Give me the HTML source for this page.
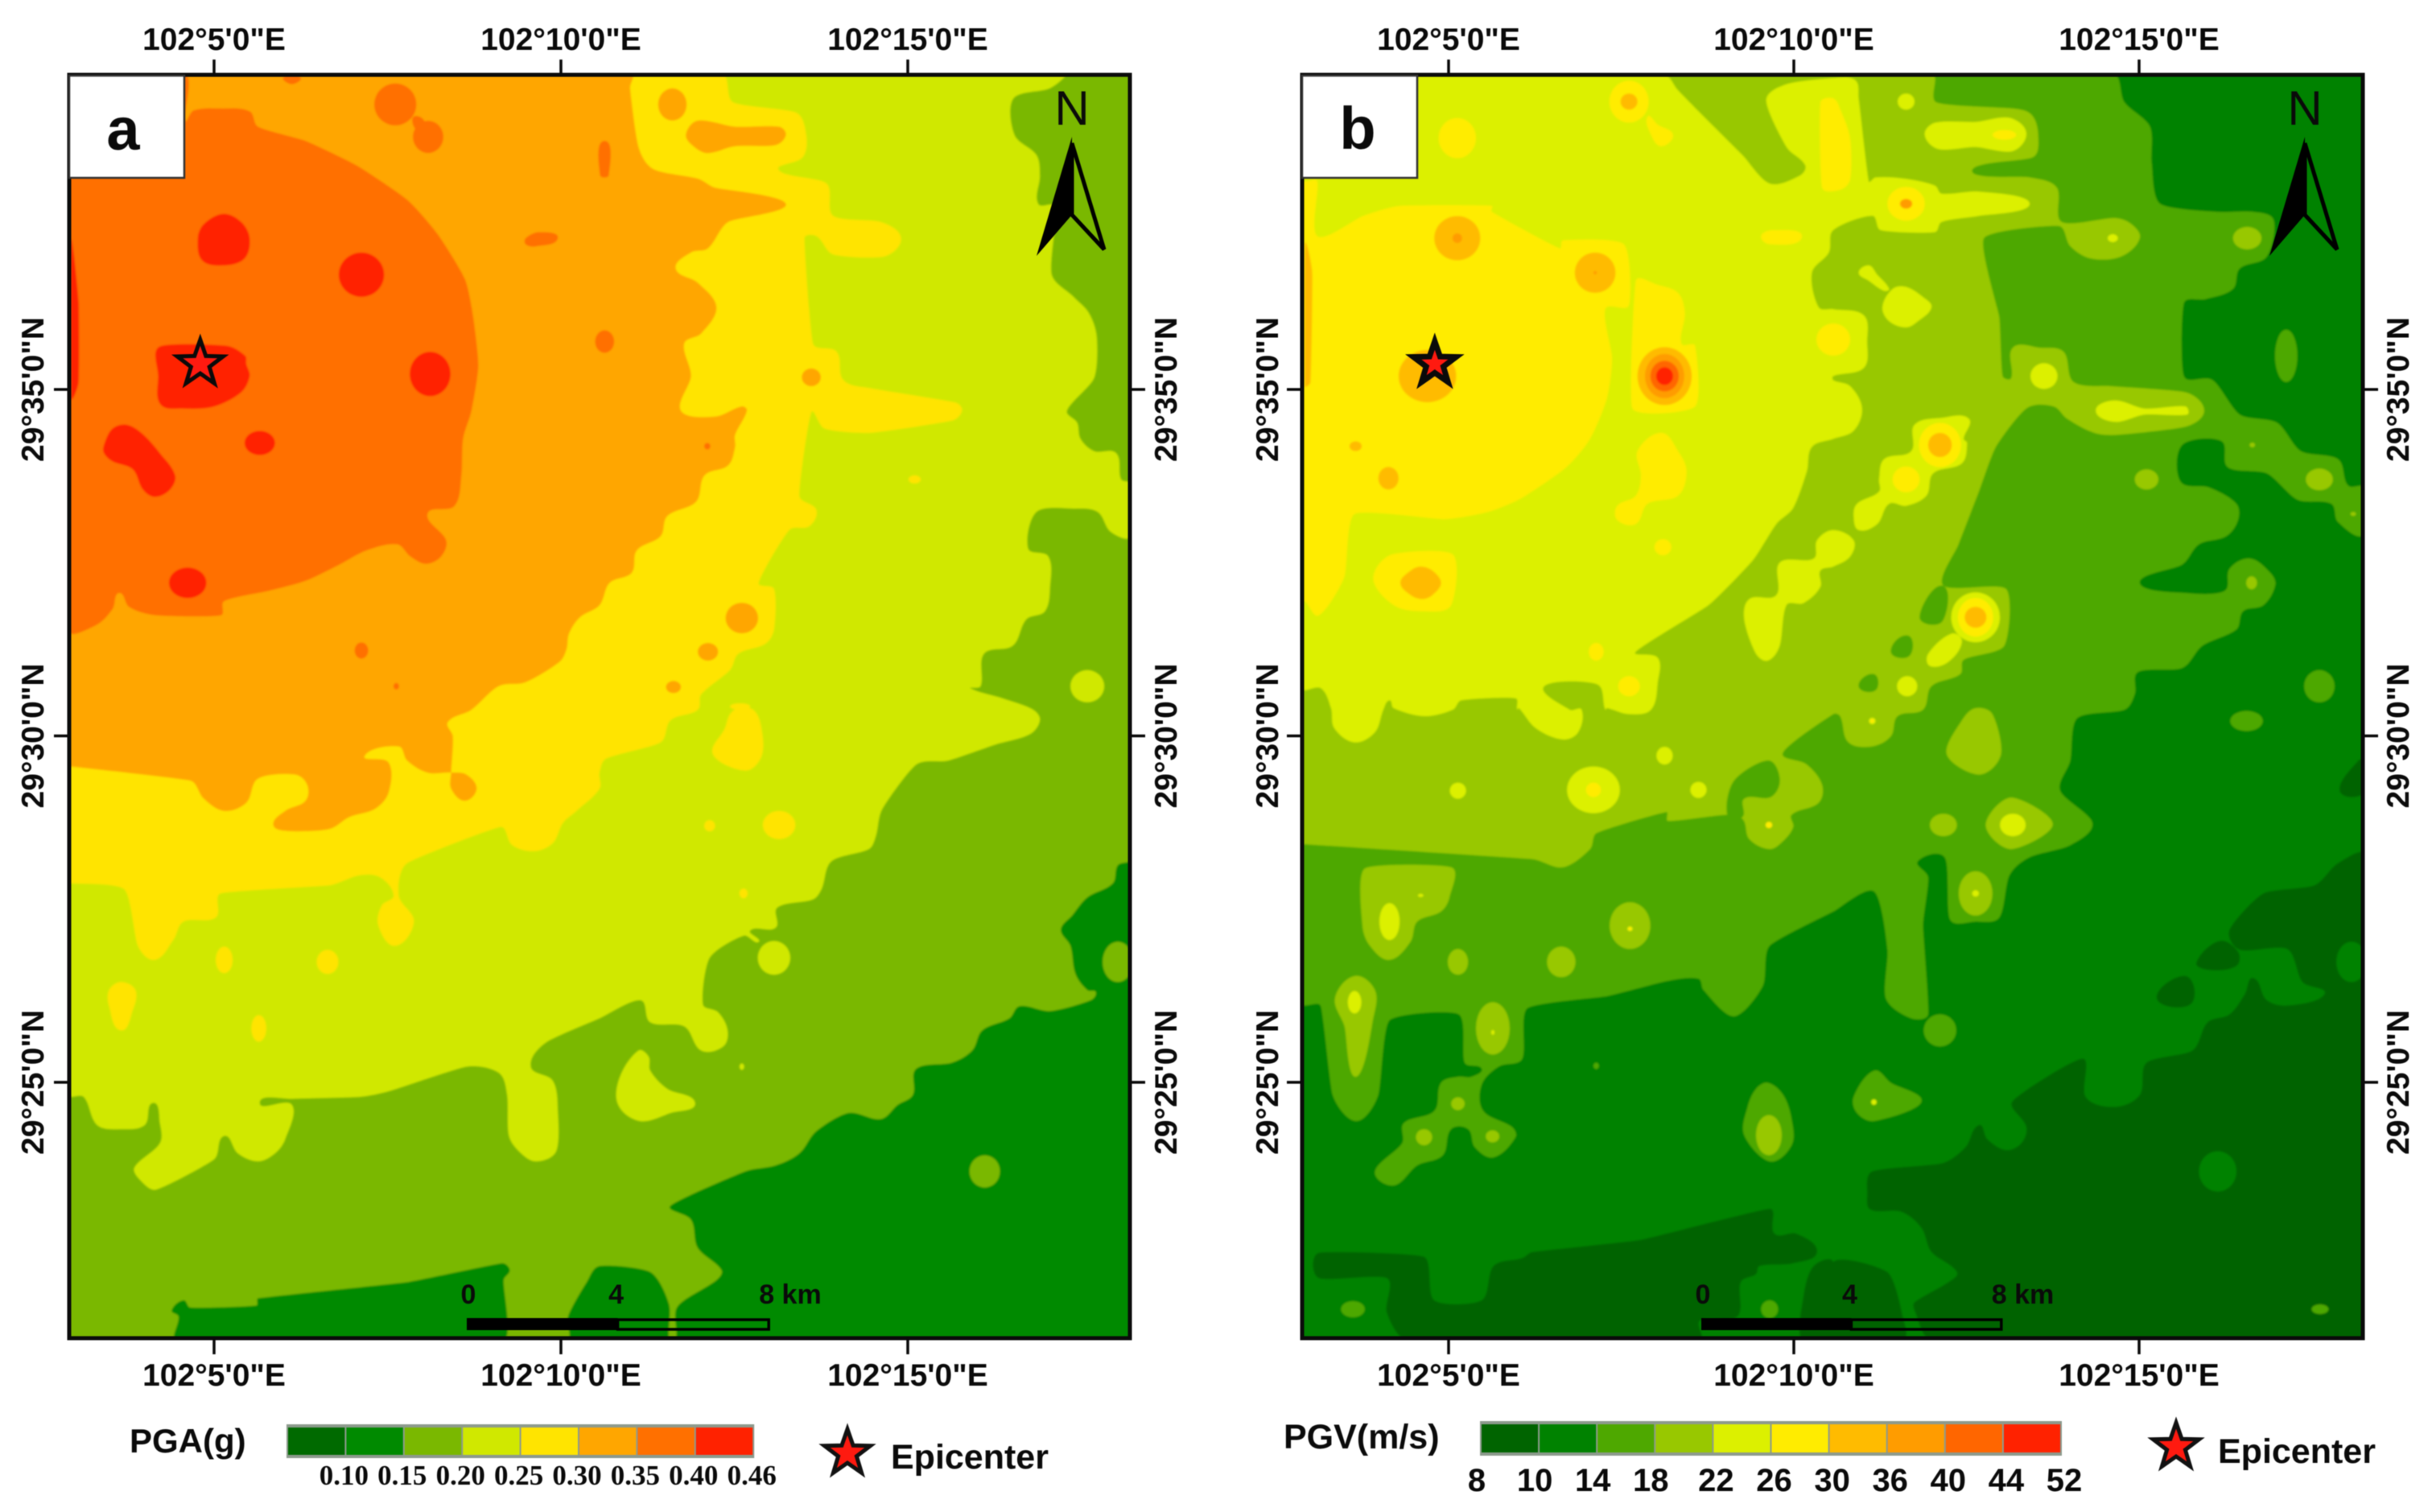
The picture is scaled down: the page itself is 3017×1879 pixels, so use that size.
<!DOCTYPE html>
<html lang="en">
<head>
<meta charset="utf-8">
<title>PGA and PGV contour maps</title>
<style>
html,body{margin:0;padding:0;background:#fff}
svg{display:block;filter:blur(0.5px)}
text{font-family:"Liberation Sans",sans-serif;font-weight:700;fill:#0a0a0a}
</style>
</head>
<body>
<svg id="figure" xmlns="http://www.w3.org/2000/svg" width="3017" height="1879" viewBox="0 0 3017 1879">
<defs>
<filter id="soft" x="-2%" y="-2%" width="104%" height="104%"><feGaussianBlur stdDeviation="1.1"/></filter>
<clipPath id="clip-a"><rect x="86" y="93" width="1318" height="1570"/></clipPath>
<clipPath id="clip-b"><rect x="1618" y="93" width="1318" height="1570"/></clipPath>
</defs>
<rect x="0" y="0" width="3017" height="1879" fill="#ffffff"/>
</svg>
<script>
/* ---- axis and legend data ---- */
const lonTickMinutes = [5, 10, 15];
const lonTickLabels = ["102°5'0\"E", "102°10'0\"E", "102°15'0\"E"];
const latTickMinutes = [35, 30, 25];
const latTickLabels = ["29°35'0\"N", "29°30'0\"N", "29°25'0\"N"];
const epicenterLon = 4.80;
const epicenterLat = 35.37;
const pgaPalette = ["#006a00", "#008a00", "#7ab800", "#d0e800", "#ffe400", "#ffa600", "#ff7000", "#ff2200"];
const pgaLegendLabels = ["0.10", "0.15", "0.20", "0.25", "0.30", "0.35", "0.40", "0.46"];
const pgvPalette = ["#006400", "#008200", "#4ea800", "#98c800", "#dcf000", "#ffec00", "#ffbb00", "#ff9c00", "#ff6600", "#ff2200"];
const pgvLegendLabels = ["8", "10", "14", "18", "22", "26", "30", "36", "40", "44", "52"];
const scaleKm = [0, 4, 8];

/* ---- contour data: map-sheet grid coordinates (sheet, col, row, ...) ---- */
const pgaRegions2 = [[
 ['TL',0,0],['TR',1568,0],
 ['BR',1568,375,1530,390,1515,435,1440,470,1395,515,1362,550,1390,590,1405,660,1440,700,1465,705,1450,725,1330,752,1240,740,1210,770,1130,800,1100,850,1040,880,935,895,925,960,880,985,830,1020,735,1005,640,1050,590,1105,520,1135,430,1150,210,1235,270,1270,290,1340,360,1395,345,1420,250,1470,225,1495,225,1568,205,1568,205,1480,150,1400,0,1385],
 ['BL',1530,1425,1475,1510,1470,1568,0,1568]
]];
const pgaBlobs2 = [['BR',1137,1150,45,40],['BR',1530,630,45,50]];
const pgaRegions1 = [[
 ['BL',320,1568,325,1510,305,1495,340,1470,360,1488,555,1483,560,1465,1000,1425,1280,1378,1303,1395,1285,1420,1285,1568]
]];
const pgaRegions3 = [
 [['TL',0,0],
  ['TR',1370,0,1330,35,1222,60,1225,150,1290,200,1300,250,1295,320,1345,325,1345,370,1335,495,1400,550,1445,590,1468,650,1460,750,1380,830,1410,860,1420,900,1460,930,1525,935,1540,1000,1568,1010,1568,1140,1510,1130,1470,1080,1400,1072,1290,1080,1265,1170,1325,1190,1330,1265,1315,1325,1260,1345,1220,1410,1135,1430,1125,1510,1095,1515,1190,1540,1280,1568],
  ['BR',1300,30,1270,65,1170,90,1030,130,935,140,835,250,815,320,795,350,685,380,655,450,630,475,525,495,520,545,445,552,470,580,425,565,325,620,305,735,350,755,378,800,365,840,300,850,250,790,150,780,120,725,0,770],
  ['BL',1410,830,1365,890,1430,925,1445,1000,1440,1100,1380,1125,1330,1100,1300,1060,1295,960,1270,905,1175,890,950,950,860,965,660,970,565,980,660,985,640,1070,610,1105,560,1125,500,1105,460,1062,430,1120,260,1195,210,1170,195,1140,270,1080,270,1030,250,980,225,1035,155,1045,85,1035,45,965,0,960]],
 [['BR',115,850,60,915,55,985,120,1025,210,1005,282,980,200,945,150,900,145,865]]
];
const pgaBlobs3 = [['BR',515,620,48,42],['TR',1440,1510,50,40],['BR',420,890,7,8]];
const pgaRegions4 = [
 [['TR',360,0,395,70,580,95,610,150,600,205,530,238,670,270,690,350,830,365,890,405,840,450,690,445,640,400,605,405,630,665,700,685,720,755,800,775,1050,810,1070,830,1040,855,800,885,665,875,625,835,590,1040,640,1075,620,1115,560,1125,470,1255,515,1270,515,1370,490,1405,410,1430,385,1470,300,1530,290,1568],
  ['BR',210,30,180,85,20,125,0,160],
  ['BL',1568,200,1500,255,1460,285,1430,335,1375,355,1310,340,1275,295,1000,385,975,465,1020,530,965,590,915,540,925,490,960,465,920,420,860,415,770,440,450,460,435,520,340,530,310,575,255,625,205,590,165,450,10,435,0,435],
  ['TL',0,0]],
 [['BR',410,0,455,5,478,50,478,120,430,155,335,115,370,50,385,15]],
 [['BL',120,700,155,680,198,700,190,750,155,800,120,740]]
];
const pgaBlobs4 = [['BR',530,290,48,35],['BR',325,292,16,14],['BR',425,460,12,12],['BL',460,625,25,33],['BL',765,630,32,30],['BL',562,795,22,33],['TR',930,1000,18,10],['TR',415,1560,30,8]];
const pgaRegions5 = [
 [['TR',95,0,90,35,115,180,160,235,290,258,340,280,550,320,380,365,320,430,270,440,225,480,290,515,345,575,300,640,250,665,270,745,240,830,340,845,420,820,435,830,400,890,400,920,380,965,310,990,285,1055,200,1090,180,1140,110,1175,95,1230,30,1255,0,1310],
  ['TL',1510,1340,1478,1380,1470,1420,1450,1450,1350,1500,1270,1510,1190,1568],
  ['BL',1120,35,1135,70,1130,160,1130,200,1170,230,1205,200,1175,165,1130,160,1060,160,1000,130,975,95,875,118,945,135,945,210,905,250,830,270,770,300,650,305,605,290,640,255,700,230,705,190,670,165,560,175,525,235,460,255,400,225,360,180,10,145,0,145],
  ['TL',0,0]],
 [['TR',255,150,290,115,400,130,530,130,550,150,520,175,400,178,320,195,280,180]]
];
const pgaBlobs5 = [['TR',215,75,42,40],['TR',625,748,28,22],['TR',420,1342,48,38],['TR',320,1425,30,22],['TR',218,1512,22,15]];
const pgaRegions6 = [
 [['TL',345,0,345,115,370,90,450,85,535,92,560,130,700,165,850,225,1000,310,1090,395,1170,505,1195,600,1210,720,1190,830,1165,900,1160,990,1140,1065,1060,1085,1115,1150,1100,1190,1055,1208,1010,1190,970,1160,880,1175,800,1210,700,1250,590,1275,460,1300,450,1335,260,1335,180,1315,150,1280,130,1320,80,1360,0,1372,0,0]],
 [['TL',1020,105,1050,115,1040,140,1020,130]],
 [['TL',635,8,685,8,660,25]],
 [['TR',15,165,27,250,2,250]],
 [['TL',1350,405,1390,390,1445,405,1380,425,1350,420]]
];
const pgaBlobs6 = [['TL',965,75,62,52],['TL',1062,155,45,40],['TR',15,660,28,28],['TL',865,1422,20,20],['TL',968,1510,8,8],['TR',318,918,9,8]];
const pgaRegions7 = [
 [['TL',8,410,30,560,30,760,8,800]],
 [['TL',382,405,400,370,458,345,510,365,535,405,520,455,458,472,395,460]],
 [['TL',270,672,465,670,522,695,525,715,535,745,510,785,430,820,340,825,272,815,265,745]],
 [['TL',105,915,130,875,170,865,215,885,270,935,315,990,300,1025,255,1043,220,1025,190,975,130,955,105,935]]
];
const pgaBlobs7 = [['TL',865,495,67,55],['TL',1068,740,60,55],['TL',565,910,45,30],['TL',352,1255,55,38]];

const pgvRegions0 = [
 [['BR',1568,365,1490,385,1420,440,1270,460,1170,550,1200,600,1340,598,1385,680,1450,710,1345,738,1280,725,1240,670,1215,710,1170,760,1105,780,1060,850,925,880,905,960,830,990,745,965,735,870,530,975,570,1040,555,1080,510,1097,455,1070,430,1035,390,1090,320,1130,115,1150,100,1210,110,1245,200,1250,260,1290,290,1350,365,1400,340,1425,240,1475,240,1495,290,1568,1568,1568]],
 [['BR',0,1375,160,1400,205,1510,205,1568,0,1568]],
 [['BL',1568,1375,1510,1385,1480,1460,1475,1568,1568,1568]],
 [['BR',1072,632,1140,578,1195,605,1190,640,1110,650]],
 [['BR',955,720,1040,665,1055,735]],
 [['BR',1495,205,1550,130,1568,130,1568,210]],
 [['BL',1380,1243,1395,1305,1460,1305,1520,1350,1450,1378,1350,1385,1340,1405,1295,1425,1285,1510,1175,1520,1175,1568,310,1568,250,1500,250,1415,50,1415,50,1352,360,1362,390,1470,530,1470,565,1385,650,1365,680,1350,1000,1320]]
];
const pgvBlobs1 = [['BR',1530,630,45,50],['BR',1135,1150,55,50]];
const pgvRegions2 = [
 [['TR',825,0,860,70,935,130,940,220,965,320,1135,340,1240,340,1300,360,1280,450,1200,480,1180,530,1100,555,1035,565,1035,745,1120,755,1200,840,1310,860,1380,930,1490,950,1520,1015,1568,1020,1568,1135,1490,1105,1470,1060,1370,1050,1280,985,1165,970,1145,905,1030,915,1025,1005,1110,1020,1190,1060,1195,1100,1160,1140,1080,1160,1030,1210,905,1255,1040,1280,1155,1275,1170,1220,1230,1195,1290,1230,1305,1260,1270,1310,1210,1325,1190,1370,1090,1410,1030,1465,900,1475,890,1530,860,1568],
  ['BR',720,25,700,130,670,205,765,285,700,340,580,370,520,415,490,520,420,530,345,525,330,372,250,380,280,420,265,540,280,760,230,770,155,720,160,600,120,455,0,505],
  ['BL',1380,590,1360,690,1275,765,1185,700,1170,672,1075,678,900,715,665,745,650,870,580,890,530,935,535,1000,620,1040,630,1065,565,1115,510,1090,490,1045,440,1045,415,1110,340,1135,270,1185,215,1150,295,1080,300,1030,390,1000,410,930,460,915,500,915,530,895,480,880,462,760,258,775,225,960,160,1025,90,960,55,740,8,738,0,738],
  ['TL',0,0]],
 [['BR',120,900,60,965,70,1005,120,1025,260,978,170,930]],
 [['BL',1375,930,1420,960,1445,1020,1445,1085,1380,1125,1305,1060,1315,990,1340,945]]
];
const pgvBlobs2 = [['BR',315,800,48,40],['BL',150,1492,35,20],['BL',1380,1492,25,22],['BR',1220,32,48,25],['TR',1435,1510,45,40],['BR',1437,1492,25,12],['BL',868,888,8,8],['TR',1337,695,33,65]];
const pgvRegions3 = [
 [['TR',290,0,305,70,530,85,585,100,605,150,590,205,410,238,580,255,660,280,675,365,830,355,880,370,905,405,850,450,760,455,700,425,665,375,445,405,490,600,500,745,525,750,530,675,610,675,680,685,710,760,820,770,1040,785,1095,830,1040,870,840,890,770,885,690,850,650,820,570,825,480,920,430,1030,370,1160,325,1262,510,1270,505,1410,385,1445,375,1480,290,1510,265,1568],
  ['BR',190,20,170,70,115,95,45,85,20,20,0,15],
  ['BL',1420,110,1490,140,1535,190,1525,235,1445,265,1450,295,1420,330,1380,350,1320,325,1300,275,1250,265,1080,280,1075,258,870,310,850,350,770,395,680,375,8,338,0,338],
  ['TL',0,0]],
 [['BL',185,398,440,395,435,470,410,505,340,530,320,580,258,625,200,590,178,540]],
 [['BL',155,665,215,700,210,770,160,915,125,790,97,720]],
 [['BR',420,0,470,15,495,115,430,165,335,115,380,30]],
 [['BR',450,290,525,222,648,288,525,350]]
];
const pgvBlobs3 = [['TR',1222,405,42,28],['TR',925,1000,35,25],['TR',1435,1000,40,27],['TR',1235,1255,16,16],['TR',1237,915,8,6],['BL',460,630,30,32],['BL',765,630,42,38],['BL',968,540,60,58],['BL',563,795,50,65],['BL',460,982,20,16],['BL',360,1065,24,20],['BL',562,1063,20,15],['BL',1378,1060,38,50],['BR',325,290,40,28],['BR',420,460,50,55],['TR',1535,1085,8,5]];
const pgvHoles2 = [
 [['TR',255,1340,322,1262,322,1350]],
 [['TR',170,1425,220,1385,225,1435]],
 [['TR',75,1510,120,1480,125,1520]],
 [['BL',1255,265,1275,180,1375,130,1410,175,1385,220,1305,225,1300,270]]
];
const pgvRegions4 = [
 [['TL',1065,0,1110,40,1180,100,1300,200,1380,270,1470,250,1485,225,1430,180,1370,65,1430,25,1568,10],
  ['TR',65,15,75,60,105,265,125,255,210,258,300,275,320,295,430,290,580,320,430,350,320,365,300,390,140,385,115,350,0,385],
  ['TL',1555,440,1505,490,1525,575],
  ['TR',0,580,90,595,100,660,90,725,0,745,0,755,50,770,85,825,60,880,0,900],
  ['TL',1505,920,1490,980,1450,1070,1400,1110,1330,1200,1200,1310,985,1425,1050,1440,1050,1500,1030,1568],
  ['BL',965,15,900,0],
  ['TL',895,1568,870,1505,715,1510,790,1568,825,1568],
  ['BL',815,60,770,78,690,50,640,0],
  ['TL',635,1568,630,1540,470,1545,445,1568],
  ['BL',360,20,270,0],
  ['TL',258,1545,240,1568],
  ['BL',215,60,155,85,95,50,85,0],
  ['TL',55,1515,0,1515,0,0]],
 [['TL',1568,1125],['TR',60,1150,50,1190,0,1215],['TL',1530,1225,1530,1265,1480,1305,1430,1310,1410,1410,1375,1447,1340,1430,1305,1345,1320,1295,1400,1285,1410,1205,1510,1195,1520,1150]],
 [['TR',60,1090,70,1060,135,1030,135,1000,150,950,230,930,240,865,320,848,400,850,385,900,395,910,380,960,295,985,275,1040,215,1065,165,1060,130,1110,75,1125]],
 [['TR',270,150,300,120,420,118,520,108,570,145,530,190,420,180,310,185]],
 [['TR',775,830,830,805,920,825,1040,820,1045,840,920,840,830,858]],
 [['TR',280,1430,350,1380,380,1400,340,1450,285,1460]],
 [['TR',145,575,175,530,215,525,265,550,290,575,250,610,215,625,165,610]],
 [['TR',75,490,105,472,130,495,165,530,150,535,105,510]]
];
const pgvBlobs4 = [['TR',622,745,40,32],['TR',215,68,25,20],['TR',825,405,15,10],['TR',420,1340,72,62],['TR',218,1510,30,25],['BL',460,205,24,20],['BL',860,203,78,58],['BL',1070,118,24,22],['BL',1170,203,24,20],['BL',155,730,20,28],['BL',258,530,30,46],['BR',530,290,38,28],['BR',115,32,10,8],['BR',420,460,10,8],['BR',120,978,8,7],['BL',350,465,8,4],['BL',968,548,8,6],['BL',563,805,5,6]];
const pgvRegions5 = [
 [['TL',8,265,45,265,45,400,180,350,290,325,560,325,560,340,760,430,770,410,950,420,965,570,895,580,915,700,900,800,850,900,780,970,650,1045,550,1080,420,1098,155,1085,125,1240,50,1335,8,1300,0,1300,0,265]],
 [['TL',985,510,1050,520,1110,540,1130,590,1120,665,1160,670,1160,820,975,825]],
 [['TL',210,1245,265,1185,445,1185,440,1310,355,1325,270,1310]],
 [['TL',1355,400,1390,385,1475,403,1380,420]],
 [['TL',990,930,1060,885,1110,930,1135,980,1110,1040,1020,1060,985,1110,930,1100,930,1065,985,1040,1000,990]],
 [['TL',1530,70,1568,60],['TR',22,90,50,160,50,260,22,285],['TL',1535,280]],
 [['TL',1020,105,1050,125,1095,150,1060,178,1030,150]]
];
const pgvBlobs5 = [['TL',458,158,55,50],['TL',965,68,58,52],['TL',1065,1167,25,20],['TL',868,1425,22,22],['TL',965,1510,32,25],['TR',0,655,50,40],['TR',315,915,62,55],['TR',215,1000,40,32],['TR',215,320,55,42],['TR',420,1340,52,48],['TR',505,150,35,12],['BL',860,203,22,18],['BL',1378,290,10,8],['BR',115,32,6,5],['BL',968,548,5,4]];
const pgvRegions6 = [
 [['TL',8,420,30,490,25,760,8,770]],
 [['TL',290,1255,320,1225,350,1215,385,1225,410,1255,385,1285,355,1295,320,1285]]
];
const pgvBlobs6 = [['TL',458,405,68,55],['TL',865,490,60,50],['TL',370,745,85,65],['TL',255,997,30,28],['TL',158,918,18,12],['TL',1070,745,80,72],['TR',315,915,35,30],['TR',420,1340,32,26],['TL',965,68,25,20]];
const pgvBlobs7 = [['TL',458,405,14,12],['TL',865,490,5,4],['TL',1070,745,58,55],['TR',215,320,18,12]];
const pgvBlobs8 = [['TL',1070,745,42,38]];
const pgvBlobs9 = [['TL',1070,745,25,22]];

/* ---- drawing order: colour level, regions, blobs ---- */
const pgaOrder = [[2,pgaRegions2,pgaBlobs2],[1,pgaRegions1,[]],[3,pgaRegions3,pgaBlobs3],[4,pgaRegions4,pgaBlobs4],[5,pgaRegions5,pgaBlobs5],[6,pgaRegions6,pgaBlobs6],[7,pgaRegions7,pgaBlobs7]];
const pgvOrder = [[0,pgvRegions0,[]],[1,[],pgvBlobs1],[2,pgvRegions2,pgvBlobs2],[3,pgvRegions3,pgvBlobs3],[2,pgvHoles2,[]],[4,pgvRegions4,pgvBlobs4],[5,pgvRegions5,pgvBlobs5],[6,pgvRegions6,pgvBlobs6],[7,[],pgvBlobs7],[8,[],pgvBlobs8],[9,[],pgvBlobs9]];

/* ---- scales ---- */
const svg = document.getElementById('figure');
const NS = 'http://www.w3.org/2000/svg';
const sheetOrigin = {TL:[0,92,790], TR:[660,92,790], BL:[0,880,785], BR:[660,880,785]};
function gridX(left, sheet, col){ return left + sheetOrigin[sheet][0] + col * 660 / 1568; }
function gridY(sheet, row){ return sheetOrigin[sheet][1] + row * sheetOrigin[sheet][2] / 1568; }
function lonX(tick5, perMinute, minutes){ return tick5 + (minutes - 5) * perMinute; }
function latY(minutes){ return 484 + (35 - minutes) * 86.1; }
function add(parent, tag, attrs){
  const el = document.createElementNS(NS, tag);
  for (const k in attrs) el.setAttribute(k, attrs[k]);
  parent.appendChild(el);
  return el;
}
function label(parent, x, y, str, size, anchor, extra){
  const el = add(parent, 'text', Object.assign({x:x, y:y, 'font-size':size, 'text-anchor':anchor}, extra || {}));
  el.textContent = str;
  return el;
}
function star(cx, cy, r){
  const p = [];
  for (let i = 0; i < 10; i++){
    const rad = i % 2 ? r * 0.4 : r;
    const a = -Math.PI / 2 + i * Math.PI / 5;
    p.push((cx + rad * Math.cos(a)).toFixed(1) + ',' + (cy + rad * Math.sin(a)).toFixed(1));
  }
  return p.join(' ');
}
/* closed curve through the contour vertices, with short handles so lines stay close to the vertices */
function smoothPath(p){
  const n = p.length;
  let d = 'M' + p[0][0].toFixed(1) + ' ' + p[0][1].toFixed(1);
  function tangent(i){
    const a = p[(i - 1 + n) % n], b = p[(i + 1) % n];
    const dx = b[0] - a[0], dy = b[1] - a[1], len = Math.hypot(dx, dy) || 1;
    return [dx / len, dy / len];
  }
  for (let i = 0; i < n; i++){
    const s = p[i], e = p[(i + 1) % n];
    const segLen = Math.hypot(e[0] - s[0], e[1] - s[1]);
    const h = Math.min(segLen * 0.33, 12);
    const t1 = tangent(i), t2 = tangent((i + 1) % n);
    d += 'C' + (s[0] + t1[0] * h).toFixed(1) + ' ' + (s[1] + t1[1] * h).toFixed(1) + ' ' + (e[0] - t2[0] * h).toFixed(1) + ' ' + (e[1] - t2[1] * h).toFixed(1) + ' ' + e[0].toFixed(1) + ' ' + e[1].toFixed(1);
  }
  return d + 'Z';
}

function drawContours(group, left, palette, order){
  for (const [level, regions, blobs] of order){
    for (const region of regions){
      const out = [];
      for (const seg of region){
        for (let i = 1; i < seg.length; i += 2){
          out.push([gridX(left, seg[0], seg[i]), gridY(seg[0], seg[i + 1])]);
        }
      }
      const poly = add(group, 'path', {d: smoothPath(out), fill: palette[level]});
      
      
    }
    for (const b of blobs){
      const el = add(group, 'ellipse', {cx: gridX(left, b[0], b[1]).toFixed(1), cy: gridY(b[0], b[2]).toFixed(1), rx: (b[3] * 660 / 1568).toFixed(1), ry: (b[4] * 0.5).toFixed(1), fill: palette[level]});
      
      
    }
  }
}

function drawPanel(cfg){
  const L = cfg.left, R = cfg.left + 1318;
  const root = add(svg, 'g', {});
  
  

  const clip = add(root, 'g', {'clip-path': 'url(#' + cfg.clip + ')'});
  
  
  const soft = add(clip, 'g', {filter: 'url(#soft)'});
  const base = add(soft, 'rect', {x: L - 5, y: 88, width: 1330, height: 1580, fill: cfg.palette[1]});
  
  
  drawContours(soft, L - cfg.gridShift, cfg.palette, cfg.order);

  const frame = add(root, 'rect', {x: L, y: 93, width: 1318, height: 1570, fill: 'none', stroke: '#0a0a0a', 'stroke-width': 5});
  
  

  lonTickMinutes.forEach(function(m, i){
    const x = lonX(cfg.tick5, cfg.perMinute, m);
    const t1 = add(root, 'line', {x1: x, x2: x, y1: 74, y2: 93, stroke: '#0a0a0a', 'stroke-width': 3.5});
    
    
    const t2 = add(root, 'line', {x1: x, x2: x, y1: 1663, y2: 1683, stroke: '#0a0a0a', 'stroke-width': 3.5});
    
    
    const a = label(root, x, 62, lonTickLabels[i], 39, 'middle');
    
    
    const b = label(root, x, 1722, lonTickLabels[i], 39, 'middle');
    
    
  });
  latTickMinutes.forEach(function(m, i){
    const y = latY(m);
    const t1 = add(root, 'line', {x1: L - 19, x2: L, y1: y, y2: y, stroke: '#0a0a0a', 'stroke-width': 3.5});
    
    
    const t2 = add(root, 'line', {x1: R, x2: R + 19, y1: y, y2: y, stroke: '#0a0a0a', 'stroke-width': 3.5});
    
    
    const a = label(root, 0, 0, latTickLabels[i], 39, 'middle', {transform: 'translate(' + cfg.latLeft + ',' + y + ') rotate(-90)'});
    
    
    const b = label(root, 0, 0, latTickLabels[i], 39, 'middle', {transform: 'translate(' + cfg.latRight + ',' + y + ') rotate(-90)'});
    
    
  });

  const box = add(root, 'rect', {x: L, y: 94, width: 143, height: 127, fill: '#ffffff', stroke: '#333', 'stroke-width': 2.5});
  
  
  const letter = label(root, cfg.letterX, cfg.letterY, cfg.letter, 74, 'middle');
  
  

  const sx = lonX(cfg.tick5, cfg.perMinute, epicenterLon), sy = latY(epicenterLat);
  const epi = add(root, 'polygon', {points: star(sx, sy, cfg.starRadius), fill: '#ff1a10', stroke: '#0a0a0a', 'stroke-width': cfg.starStroke, 'stroke-linejoin': 'miter'});
  
  

  const nx = cfg.left + 1246;
  const nLabel = label(root, nx, 155, 'N', 60, 'middle', {style: 'font-weight:400'});
  
  
  const n1 = add(root, 'polygon', {points: nx + ',170 ' + (nx - 44) + ',318 ' + nx + ',267', fill: '#000'});
  
  
  const n2 = add(root, 'polygon', {points: nx + ',178 ' + (nx + 40) + ',310 ' + nx + ',267', fill: 'none', stroke: '#000', 'stroke-width': 5});
  
  

  const sb = cfg.scaleX, kmPx = cfg.kmPx;
  const s1 = add(root, 'rect', {x: sb + scaleKm[0] * kmPx, y: 1638, width: (scaleKm[1] - scaleKm[0]) * kmPx, height: 15, fill: '#000'});
  
  
  const s2 = add(root, 'rect', {x: sb + scaleKm[1] * kmPx, y: 1640, width: (scaleKm[2] - scaleKm[1]) * kmPx, height: 12, fill: 'none', stroke: '#000', 'stroke-width': 3.5});
  
  
  const s3 = label(root, sb + scaleKm[0] * kmPx + 2, 1620, String(scaleKm[0]), 34, 'middle');
  
  
  const s4 = label(root, sb + scaleKm[1] * kmPx - 2, 1620, String(scaleKm[1]), 34, 'middle');
  
  
  const s5 = label(root, sb + scaleKm[2] * kmPx - 12, 1620, scaleKm[2] + ' km', 34, 'start');
  
  
}

drawPanel({name:'panel-a-pga', clip:'clip-a', left:86, gridShift:1, tick5:266, perMinute:86.2, palette:pgaPalette, order:pgaOrder, latLeft:54, latRight:1462, letter:'a', letterX:153, letterY:186, starRadius:30, starStroke:5, scaleX:580, kmPx:46.9});
drawPanel({name:'panel-b-pgv', clip:'clip-b', left:1618, gridShift:0, tick5:1800, perMinute:85.8, palette:pgvPalette, order:pgvOrder, latLeft:1588, latRight:2993, letter:'b', letterX:1687, letterY:185, starRadius:28, starStroke:7, scaleX:2114, kmPx:46.6});

/* ---- legends ---- */
function drawLegendBar(name, palette, x0, cell, y, h){
  const g = add(svg, 'g', {});
  
  
  const glow = add(g, 'rect', {x: x0 - 1, y: y - 2, width: cell * palette.length + 2, height: h + 4, fill: '#8d9a8d'});
  
  
  palette.forEach(function(c, i){
    const r = add(g, 'rect', {x: x0 + i * cell + 1, y: y + 2, width: cell - 2, height: h - 4, fill: c});
    
    
  });
}
drawLegendBar('pga-legend-bar', pgaPalette, 357, 72.4, 1772, 38);
drawLegendBar('pgv-legend-bar', pgvPalette, 1840, 72.1, 1768, 39);

pgaLegendLabels.forEach(function(t, i){
  const el = label(svg, 357 + (i + 1) * 72.4 - 2, 1845, t, 35, 'middle', {style: 'font-family:\'Liberation Serif\',serif'});
  
  
});
pgvLegendLabels.forEach(function(t, i){
  const el = label(svg, 1840 + i * 72.1 + (i < 4 ? -5 : 4), 1853, t, 40, 'middle');
  
  
});

const pgaTitle = label(svg, 161, 1805, 'PGA(g)', 42, 'start');


const pgvTitle = label(svg, 1595, 1800, 'PGV(m/s)', 43, 'start');



const legendStarA = add(svg, 'polygon', {points: star(1053, 1806, 30), fill: '#ff1a10', stroke: '#111', 'stroke-width': 5});


const legendStarB = add(svg, 'polygon', {points: star(2704, 1798, 30), fill: '#ff1a10', stroke: '#111', 'stroke-width': 5});


const epiA = label(svg, 1107, 1825, 'Epicenter', 43, 'start');


const epiB = label(svg, 2756, 1818, 'Epicenter', 43, 'start');


</script>
</body>
</html>
